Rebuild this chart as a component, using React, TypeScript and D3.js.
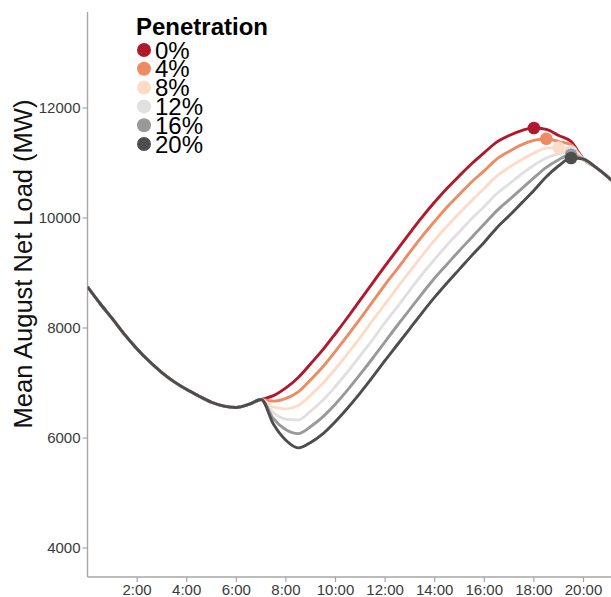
import React from "react";
import * as d3 from "d3";

const W = 611;
const H = 597;

// legend / series
const penetration = ["0%", "4%", "8%", "12%", "16%", "20%"];
const colors = ["#b2182b", "#ef8a62", "#fddbc7", "#e0e0e0", "#999999", "#4d4d4d"];

// half-hourly net load (MW); identical for every penetration before 7:00 and after 20:00
const morning = [8750, 8450, 8170, 7880, 7620, 7390, 7190, 7020, 6880, 6760, 6650, 6580, 6555, 6610]; // 0:00 - 6:30
const evening = [10920, 10740, 10540]; // 20:30 - 21:30

// 7:00 - 20:00 for each penetration level
const pen0 = [6700, 6770, 6910, 7100, 7350, 7610, 7900, 8200, 8510, 8820, 9130, 9430, 9730, 10020, 10290, 10540, 10770, 10990, 11190, 11380, 11500, 11590, 11635, 11610, 11500, 11390, 11070];
const pen4 = [6700, 6670, 6720, 6840, 7060, 7300, 7580, 7870, 8170, 8480, 8790, 9080, 9380, 9670, 9940, 10200, 10430, 10660, 10860, 11070, 11210, 11330, 11410, 11440, 11390, 11330, 11070];
const pen8 = [6700, 6560, 6530, 6590, 6780, 7000, 7260, 7540, 7830, 8140, 8440, 8740, 9030, 9320, 9600, 9850, 10090, 10320, 10540, 10760, 10920, 11060, 11180, 11270, 11280, 11270, 11070];
const pen12 = [6700, 6460, 6340, 6330, 6490, 6690, 6940, 7210, 7500, 7790, 8100, 8390, 8690, 8980, 9250, 9510, 9750, 9990, 10210, 10440, 10620, 10800, 10960, 11090, 11170, 11210, 11070];
const pen16 = [6700, 6350, 6150, 6080, 6210, 6390, 6620, 6880, 7160, 7450, 7750, 8050, 8340, 8630, 8910, 9160, 9410, 9650, 9890, 10130, 10330, 10530, 10730, 10920, 11060, 11150, 11070];
const pen20 = [6700, 6250, 5960, 5820, 5920, 6080, 6300, 6550, 6820, 7110, 7410, 7700, 7990, 8280, 8560, 8820, 9070, 9320, 9560, 9820, 10040, 10270, 10500, 10750, 10950, 11090, 11070];

const xTicks = [2, 4, 6, 8, 10, 12, 14, 16, 18, 20];
const xTickLabels = ["2:00", "4:00", "6:00", "8:00", "10:00", "12:00", "14:00", "16:00", "18:00", "20:00"];
const yTicks = [4000, 6000, 8000, 10000, 12000];

const STEP = 0.5; // hours between samples
const FONT = "'Liberation Sans', Arial, Helvetica, sans-serif";

export default function App() {
  const x = d3.scaleLinear().domain([0, 24]).range([87.5, 682.7]);
  const y = d3.scaleLinear().domain([3473, 13745]).range([577, 12]);

  const series = [pen0, pen4, pen8, pen12, pen16, pen20].map((mid) => [...morning, ...mid, ...evening]);

  const line = d3
    .line<number>()
    .x((_, i) => x(i * STEP))
    .y((d) => y(d))
    .curve(d3.curveMonotoneX);

  const axisColor = "#a6a6a6";
  const left = x(0);
  const bottom = y.range()[0];

  return (
    <svg width={W} height={H} style={{ position: "absolute", left: 0, top: 0, background: "#fff" }} fontFamily={FONT}>
      <defs>
        <clipPath id="plot">
          <rect x={left} y={0} width={W - left} height={bottom} />
        </clipPath>
      </defs>

      {/* axes */}
      <line x1={left} x2={left} y1={y.range()[1]} y2={bottom} stroke={axisColor} strokeWidth={1.4} />
      <line x1={left} x2={W} y1={bottom} y2={bottom} stroke={axisColor} strokeWidth={1.4} />

      {yTicks.map((t) => (
        <g key={t}>
          <line x1={left - 5} x2={left} y1={y(t)} y2={y(t)} stroke={axisColor} strokeWidth={1.2} />
          <text x={left - 7} y={y(t) + 5.2} textAnchor="end" fontSize={15} fill="#3a3a3a">
            {t}
          </text>
        </g>
      ))}

      {xTicks.map((t, i) => (
        <g key={t}>
          <line x1={x(t)} x2={x(t)} y1={bottom} y2={bottom + 5} stroke={axisColor} strokeWidth={1.2} />
          <text x={x(t)} y={bottom + 17.5} textAnchor="middle" fontSize={15} fill="#3a3a3a">
            {xTickLabels[i]}
          </text>
        </g>
      ))}

      <text transform={`translate(32,264) rotate(-90)`} textAnchor="middle" fontSize={25.5} fill="#111">
        Mean August Net Load (MW)
      </text>

      {/* lines */}
      <g clipPath="url(#plot)">
        {series.map((s, i) => (
          <path key={i} d={line(s) ?? ""} fill="none" stroke={colors[i]} strokeWidth={2.9} strokeLinejoin="round" />
        ))}
        {series.map((s, i) => {
          const k = d3.maxIndex(s);
          return <circle key={i} cx={x(k * STEP)} cy={y(s[k])} r={6.3} fill={colors[i]} />;
        })}
      </g>

      {/* legend */}
      <text x={136} y={35} fontSize={24} fontWeight="bold" fill="#000">
        Penetration
      </text>
      {penetration.map((p, i) => (
        <g key={p}>
          <circle cx={144} cy={50 + i * 18.8} r={7} fill={colors[i]} />
          <text x={155} y={58.5 + i * 18.8} fontSize={24} fill="#000">
            {p}
          </text>
        </g>
      ))}
    </svg>
  );
}
